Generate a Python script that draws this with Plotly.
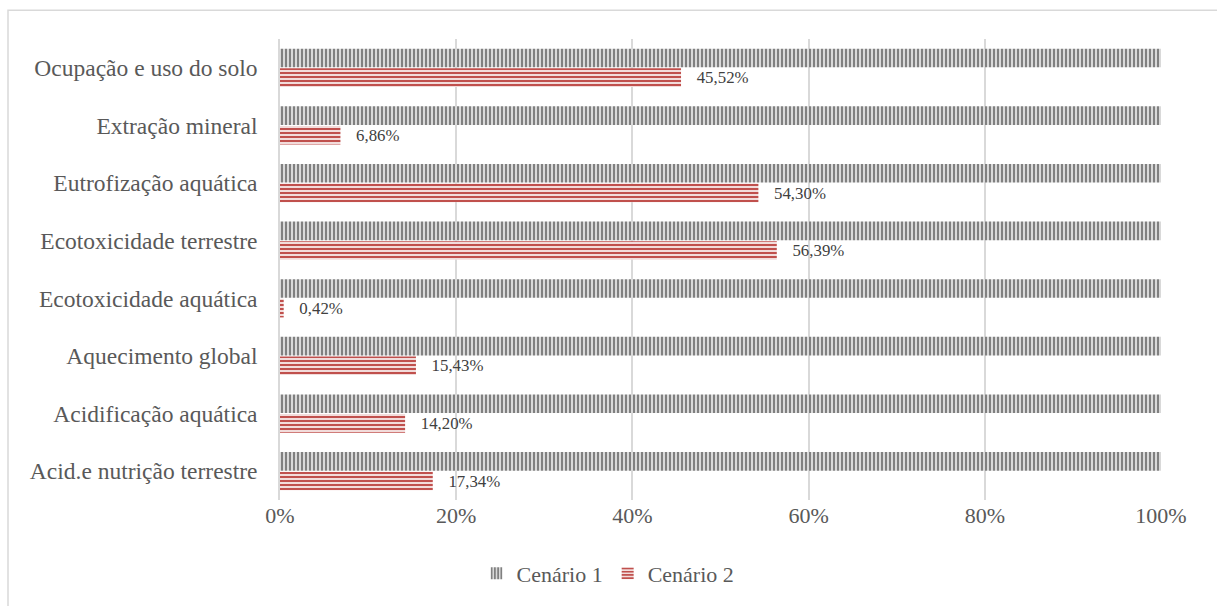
import plotly.graph_objects as go

# Impact categories, bottom to top
categorias = [
    "Acid.e nutrição terrestre",
    "Acidificação aquática",
    "Aquecimento global",
    "Ecotoxicidade aquática",
    "Ecotoxicidade terrestre",
    "Eutrofização aquática",
    "Extração mineral",
    "Ocupação e uso do solo",
]
cenario1 = [100, 100, 100, 100, 100, 100, 100, 100]
cenario2 = [17.34, 14.20, 15.43, 0.42, 56.39, 54.30, 6.86, 45.52]
ticks_x = [0, 20, 40, 60, 80, 100]
ticks_txt = ["0%", "20%", "40%", "60%", "80%", "100%"]

fonte = "Liberation Serif"
cinza_txt = "#595959"

# plot area in pixels: 39..503 vertically, 280..1161 horizontally
plot_h = 606 - 39 - 103
plot_w = 1217 - 280 - 56

fig = go.Figure()

# Cenário 2 is added first so that it sits below Cenário 1 inside each group
fig.add_trace(go.Bar(
    y=categorias, x=cenario2, orientation="h", name="Cenário 2",
    marker=dict(color="white", line=dict(width=0),
                pattern=dict(shape="-", fgcolor="#c0504d", bgcolor="#f2dcdb",
                             fgopacity=1, size=4, solidity=0.5)),
    texttemplate="\u00a0\u00a0\u00a0%{x:.2f}%", textposition="outside",
    textfont=dict(family=fonte, size=19, color="#404040"),
    cliponaxis=False, legendrank=2,
))
fig.add_trace(go.Bar(
    y=categorias, x=cenario1, orientation="h", name="Cenário 1",
    marker=dict(color="white", line=dict(width=0),
                pattern=dict(shape="|", fgcolor="#808080", bgcolor="#d9d9d9",
                             fgopacity=1, size=4, solidity=0.5)),
    legendrank=1,
))

fig.update_layout(
    width=1217, height=606,
    margin=dict(l=280, r=56, t=39, b=103),
    paper_bgcolor="white", plot_bgcolor="white",
    barmode="group", bargap=0.32, bargroupgap=0.05,
    separators=",.",
    font=dict(family=fonte, size=22, color=cinza_txt),
    xaxis=dict(range=[0, 100], tickvals=ticks_x, ticktext=ticks_txt,
               showgrid=True, gridcolor="#d9d9d9", gridwidth=1.5,
               zeroline=False, showline=False, ticks="",
               tickfont=dict(family=fonte, size=22, color=cinza_txt)),
    yaxis=dict(showgrid=False, zeroline=False, showline=True,
               linecolor="#d9d9d9", linewidth=1.5, ticks="",
               ticklabelstandoff=16,
               tickfont=dict(family=fonte, size=23.5, color=cinza_txt)),
    legend=dict(orientation="h", x=(608 - 280) / plot_w, xanchor="center",
                y=(503 - 577) / plot_h, yanchor="middle",
                font=dict(family=fonte, size=22, color=cinza_txt), itemwidth=30,
                traceorder="normal"),
    showlegend=True,
    shapes=[dict(type="rect", xref="paper", yref="paper",
                 x0=(8 - 280) / plot_w, x1=1.2, y0=-0.5, y1=(503 - 10) / plot_h,
                 line=dict(color="#d9d9d9", width=1.5), layer="below")],
)

fig.write_html("out.html")
